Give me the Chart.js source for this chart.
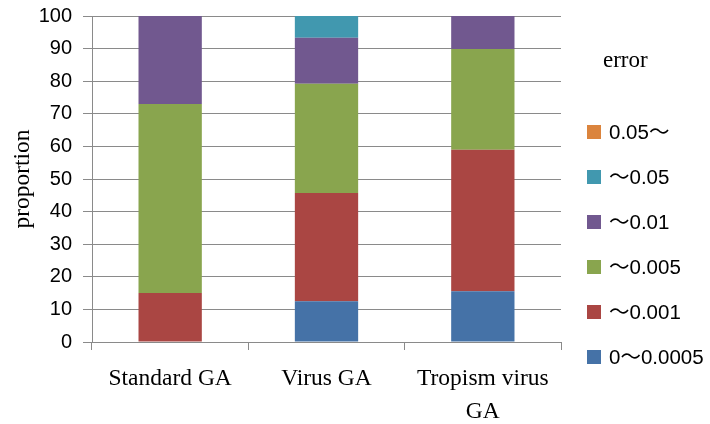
<!DOCTYPE html>
<html>
<head>
<meta charset="utf-8">
<script src="https://cdn.jsdelivr.net/npm/chart.js@4"></script>
<style>
  body { margin: 0; background: #fff; }
  #wrap { position: relative; width: 710px; height: 424px; overflow: hidden; }
  #chart { position: absolute; left: 0; top: -7px; }
  #legend { position: absolute; left: 587px; top: 0; font-family: 'Liberation Sans', 'Noto Sans CJK JP', sans-serif; font-size: 20.5px; color: #000; }
  #legend .title { position: absolute; left: 16px; top: 47px; font-family: 'Liberation Serif', serif; font-size: 23px; white-space: nowrap; }
  #legend .item { position: absolute; left: 0; white-space: nowrap; height: 22px; line-height: 22px; }
  #legend .box { display: inline-block; width: 14px; height: 14px; vertical-align: middle; margin-right: 8px; position: relative; top: -2px; }
</style>
</head>
<body>
<div id="wrap">
  <canvas id="chart" width="710" height="431"></canvas>
  <div id="legend"><div class="title">error</div></div>
</div>
<script>
let ctx = document.getElementById('chart').getContext('2d');

// категории и данные (в процентах)
let categories = ['Standard GA', 'Virus GA', ['Tropism virus', 'GA']];
let seriesNames = ['0\uFF5E0.0005', '\uFF5E0.001', '\uFF5E0.005', '\uFF5E0.01', '\uFF5E0.05', '0.05\uFF5E'];
let seriesColors = ['#4572A7', '#AA4643', '#89A54E', '#71588F', '#4198AF', '#DB843D'];

let s0 = [0, 12.5, 15.6];   // 0~0.0005
let s1 = [15, 33.2, 43.4];  // ~0.001
let s2 = [58, 33.5, 30.9];  // ~0.005
let s3 = [27, 14.1, 10.1];  // ~0.01
let s4 = [0, 6.7, 0];       // ~0.05
let s5 = [0, 0, 0];         // 0.05~
let seriesValues = [s0, s1, s2, s3, s4, s5];

let yTicks = [0, 10, 20, 30, 40, 50, 60, 70, 80, 90, 100];

let gridColor = '#8a8a8a';

let datasets = seriesNames.map((name, i) => ({
    label: name,
    data: seriesValues[i],
    backgroundColor: seriesColors[i],
    borderWidth: 0,
    barPercentage: 0.405,
    categoryPercentage: 1
}));

let chart = new Chart(ctx, {
    type: 'bar',
    data: { labels: categories, datasets: datasets },
    options: {
        responsive: false,
        animation: false,
        layout: { padding: { top: 1, right: 149, bottom: 0, left: 0 } },
        plugins: { legend: { display: false }, tooltip: { enabled: false } },
        scales: {
            x: {
                stacked: true,
                grid: { drawOnChartArea: false, color: gridColor, tickLength: 8, offset: true },
                border: { color: gridColor },
                ticks: {
                    color: '#000',
                    padding: 12,
                    font: { family: "'Liberation Serif', serif", size: 23.5, lineHeight: 1.4 }
                },
                afterFit: function (scale) { scale.height = 82; }
            },
            y: {
                stacked: true,
                min: 0,
                max: 100,
                afterBuildTicks: function (scale) { scale.ticks = yTicks.map(v => ({ value: v })); },
                grid: { color: gridColor, tickLength: 9 },
                border: { color: gridColor },
                ticks: {
                    color: '#000',
                    padding: 11,
                    font: { family: "'Liberation Sans', sans-serif", size: 20 }
                },
                title: {
                    display: true,
                    text: 'proportion',
                    color: '#000',
                    padding: { top: 9, bottom: 0 },
                    font: { family: "'Liberation Serif', serif", size: 23.5, weight: 'normal' }
                },
                afterFit: function (scale) { scale.width = 92; }
            }
        }
    }
});

// легенда справа, в обратном порядке
let legend = document.getElementById('legend');
for (let i = seriesNames.length - 1; i >= 0; i--) {
    let row = seriesNames.length - 1 - i;
    let item = document.createElement('div');
    item.className = 'item';
    item.style.top = (121 + row * 45) + 'px';
    item.innerHTML = '<span class="box" style="background:' + seriesColors[i] + '"></span>' + seriesNames[i];
    legend.appendChild(item);
}
</script>
</body>
</html>
